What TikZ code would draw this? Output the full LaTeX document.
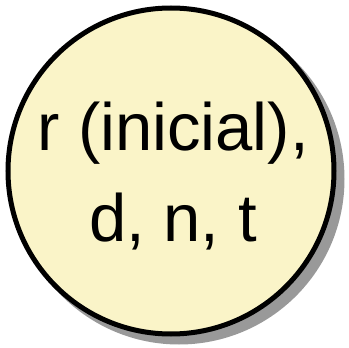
\documentclass[tikz,border=0pt]{standalone}
\usepackage{fontspec}
\setmainfont{Liberation Sans}
\definecolor{fillyel}{HTML}{FAF4C8}
\definecolor{shadowgray}{HTML}{999999}
\begin{document}
\begin{tikzpicture}[x=1pt,y=-1pt,
  statecircle/.style={circle, draw=black, line width=5pt, fill=fillyel, minimum size=326pt, inner sep=0pt},
  shadowcircle/.style={circle, fill=shadowgray, minimum size=331pt, inner sep=0pt}]
\useasboundingbox (0,0) rectangle (349,348);
\node[shadowcircle] (sh) at (179,179) {};
\node[statecircle] (c) at (171,171) {};
\node[align=center, font=\fontsize{67}{91}\selectfont] (t) at (173,176) {r (inicial),\\d, n, t};
\end{tikzpicture}
\end{document}
